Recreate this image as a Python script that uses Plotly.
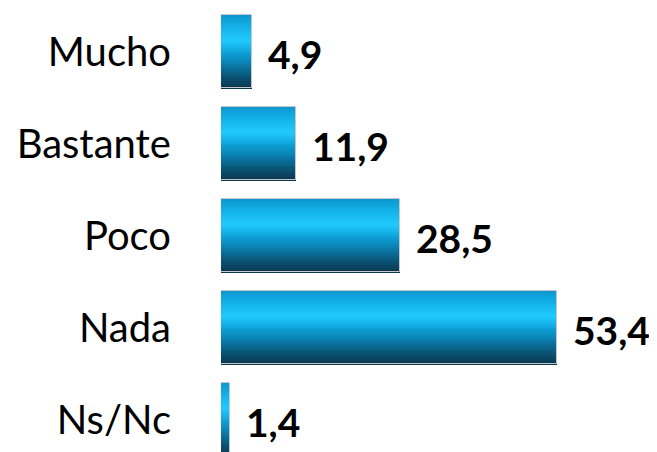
import plotly.graph_objects as go

categories = ["Mucho", "Bastante", "Poco", "Nada", "Ns/Nc"]
values = [4.9, 11.9, 28.5, 53.4, 1.4]
value_labels = ["4,9", "11,9", "28,5", "53,4", "1,4"]

# vertical gradient stops (fraction from top of bar, colour)
stops = [
    (0.00, (14, 150, 205)),
    (0.12, (16, 170, 225)),
    (0.35, (34, 204, 255)),
    (0.50, (14, 165, 220)),
    (0.65, (10, 130, 180)),
    (0.82, (10, 90, 125)),
    (1.00, (10, 52, 75)),
]


def grad(t):
    for (t0, c0), (t1, c1) in zip(stops[:-1], stops[1:]):
        if t0 <= t <= t1:
            f = (t - t0) / (t1 - t0) if t1 > t0 else 0
            return "rgb(%d,%d,%d)" % tuple(round(a + (b - a) * f) for a, b in zip(c0, c1))
    return "rgb(%d,%d,%d)" % stops[-1][1]


W = 0.80
N = 40
fig = go.Figure()
for k in range(N):
    t = (k + 0.5) / N
    fig.add_trace(go.Bar(
        x=values, y=categories, orientation="h",
        width=W / N * 1.6, offset=-W / 2 + k * W / N,
        marker=dict(color=grad(t), line=dict(width=0)),
        hoverinfo="skip", showlegend=False,
    ))

# thin light outline
fig.add_trace(go.Bar(
    x=values, y=categories, orientation="h", width=W,
    marker=dict(color="rgba(0,0,0,0)", line=dict(color="#c4c8cc", width=1)),
    hoverinfo="skip", showlegend=False,
))

for c, v, lab in zip(categories, values, value_labels):
    fig.add_annotation(
        x=v, y=c, text="<b>%s</b>" % lab, showarrow=False,
        xanchor="left", yanchor="middle", xshift=14, yshift=-2,
        font=dict(family="Lato", size=39, color="black"),
    )

fig.update_layout(
    width=657, height=452,
    margin=dict(l=213, r=0, t=0, b=0, pad=0),
    paper_bgcolor="white", plot_bgcolor="white",
    barmode="overlay", bargap=0,
    xaxis=dict(range=[0, 70.6], visible=False, fixedrange=True, automargin=False),
    yaxis=dict(
        range=[4.440, -0.473], categoryorder="array", categoryarray=categories,
        showgrid=False, zeroline=False, showline=False, ticks="",
        ticklabelstandoff=49, automargin=False,
        tickfont=dict(family="Lato", size=40, color="black"),
    ),
)

fig.write_html("out.html")
